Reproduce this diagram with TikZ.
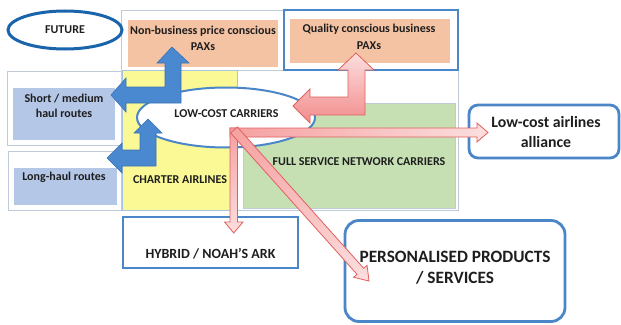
\documentclass[tikz,border=0pt]{standalone}
\usepackage{fontspec}
\setmainfont{Carlito}
\usetikzlibrary{calc}
\definecolor{boxblue}{RGB}{74,134,200}
\definecolor{futblue}{RGB}{26,100,172}
\definecolor{orangefill}{RGB}{244,195,163}
\definecolor{lbluefill}{RGB}{180,199,231}
\definecolor{yellowfill}{RGB}{250,249,150}
\definecolor{greenfill}{RGB}{198,224,180}
\definecolor{framec}{RGB}{192,203,216}
\definecolor{yframe}{RGB}{168,196,224}
\definecolor{arrowblue}{RGB}{74,136,207}
\definecolor{arrowblueD}{RGB}{59,115,179}
\definecolor{pinkD}{RGB}{224,96,96}
\definecolor{pinkR}{RGB}{242,140,140}
\definecolor{pinkT}{RGB}{245,160,160}
\definecolor{pinkL}{RGB}{252,222,222}
\definecolor{txt}{RGB}{30,30,30}
\tikzset{
  panel/.style={draw=framec, line width=0.8pt, fill=white, inner sep=0pt, outer sep=0pt},
  fillbox/.style={fill=#1, draw=none, inner sep=0pt, outer sep=0pt},
  thickbox/.style={draw=boxblue, line width=2.8pt, fill=white, inner sep=0pt, outer sep=0pt},
  lbl/.style={text=txt, align=center, inner sep=0pt, font=\bfseries\fontsize{12}{15.5}\selectfont},
  bluearrow/.style={fill=arrowblue, draw=arrowblueD, line width=0.6pt, line join=miter},
  pinkarrow/.style={draw=pinkD, line width=0.8pt, line join=miter},
}
\begin{document}
\begin{tikzpicture}[x=1pt,y=-1pt]
\useasboundingbox (0,0) rectangle (621,324);
% panels
\node[panel, minimum width=163pt, minimum height=60pt] (toppanel) at (202.5,40) {};
\node[fillbox=orangefill, minimum width=150pt, minimum height=47pt] (nbfill) at (203,43.5) {};
\node[panel, minimum width=337pt, minimum height=140pt] (mainpanel) at (289.5,140) {};
\node[fill=yellowfill, draw=yframe, line width=0.8pt, inner sep=0pt, minimum width=115pt, minimum height=140pt] (charter) at (179.5,140) {};
\node[fillbox=greenfill, draw=framec, line width=0.6pt, minimum width=212pt, minimum height=105pt] (fsnc) at (349,155.5) {};
\node[thickbox, minimum width=174pt, minimum height=60pt] (qualbox) at (371,40) {};
\node[fillbox=orangefill, minimum width=160pt, minimum height=44pt] (qfill) at (370,41) {};
\node[panel, minimum width=114pt, minimum height=74pt] (shortpanel) at (64,108) {};
\node[fillbox=lbluefill, minimum width=102pt, minimum height=52pt] (shortfill) at (64,114) {};
\node[panel, minimum width=113pt, minimum height=59pt] (longpanel) at (64.5,180.5) {};
\node[fillbox=lbluefill, minimum width=103pt, minimum height=37pt] (longfill) at (65.5,186.5) {};
% future
\draw[futblue, line width=3pt, fill=white] (65,30) ellipse [x radius=57, y radius=19];
\node[lbl] (future) at (65,30) {FUTURE};
% outer boxes
\node[thickbox, minimum width=175pt, minimum height=51pt] (hybrid) at (210.5,242.5) {};
\node[thickbox, rounded corners=14pt, minimum width=220pt, minimum height=101pt] (pers) at (455,271) {};
\node[thickbox, rounded corners=9pt, minimum width=150pt, minimum height=53pt] (alliance) at (544,131.5) {};
% texts
\node[lbl, font=\bfseries\fontsize{12}{16}\selectfont] (nbtxt) at (203,38) {Non-business price conscious\\PAXs};
\node[lbl, font=\bfseries\fontsize{12}{17}\selectfont] (qtxt) at (369,36.5) {Quality conscious business\\PAXs};
\node[lbl, font=\bfseries\fontsize{12}{15}\selectfont] (shorttxt) at (64,105.5) {Short / medium\\haul routes};
\node[lbl] (longtxt) at (64,177.5) {Long-haul routes};
\node[lbl] (chartxt) at (180,179.5) {CHARTER AIRLINES};
\node[lbl] (fsnctxt) at (359,162) {FULL SERVICE NETWORK CARRIERS};
\node[lbl, font=\bfseries\fontsize{14}{16}\selectfont] (hybtxt) at (210.5,254) {HYBRID / NOAH'S ARK};
\node[lbl, font=\bfseries\fontsize{17.3}{21}\selectfont] (perstxt) at (455,267.5) {PERSONALISED PRODUCTS\\/ SERVICES};
\node[lbl, font=\bfseries\fontsize{15.8}{20}\selectfont] (alltxt) at (546,132) {Low-cost airlines\\alliance};
% low-cost carriers ellipse
\draw[boxblue, line width=2pt, fill=white] (226,117.5) ellipse [x radius=89, y radius=30];
\node[lbl] (lcc) at (226.5,113.5) {LOW-COST CARRIERS};
% blue bent arrows
\path[bluearrow] (172,47) -- (189,63) -- (181,63) -- (181,103) -- (126,103) -- (126,112) -- (111,95) -- (126,78) -- (126,87) -- (165,87) -- (165,63) -- (157,63) -- cycle;
\path[bluearrow] (148,119) -- (162,133) -- (156,133) -- (156,166) -- (122,166) -- (122,173) -- (107,158) -- (122,143) -- (122,150) -- (140,150) -- (140,133) -- (134,133) -- cycle;
% pink bent arrow
\path[pinkarrow, top color=pinkL, bottom color=pinkR] (356,53) -- (374,70) -- (365,70) -- (365,115) -- (310,115) -- (310,123) -- (293,106) -- (310,89) -- (310,97) -- (348,97) -- (348,70) -- (338,70) -- cycle;
% thin pink arrows from hub
\coordinate (hub) at (230,128);
\path[pinkarrow, left color=pinkT, right color=pinkL] (hub) -- (477,128) -- (477,123) -- (488,132.5) -- (477,142) -- (477,137) -- (230,137) -- cycle;
\path[pinkarrow, top color=pinkT, bottom color=pinkL] (hub) -- (237.5,128) -- (237.5,222) -- (243,222) -- (233.75,233) -- (224.5,222) -- (230,222) -- cycle;
\coordinate (dS) at (234,130);
\coordinate (dT) at (369,281);
\coordinate (dH) at ($(dT)!13pt!(dS)$);
\path[pinkarrow, shading angle=45, top color=pinkT, bottom color=pinkL]
  ($(dS)!4.5pt!90:(dT)$) -- ($(dH)!4.5pt!90:(dT)$) -- ($(dH)!9pt!90:(dT)$) -- (dT)
  -- ($(dH)!9pt!-90:(dT)$) -- ($(dH)!4.5pt!-90:(dT)$) -- ($(dS)!4.5pt!-90:(dT)$) -- cycle;
\end{tikzpicture}
\end{document}
